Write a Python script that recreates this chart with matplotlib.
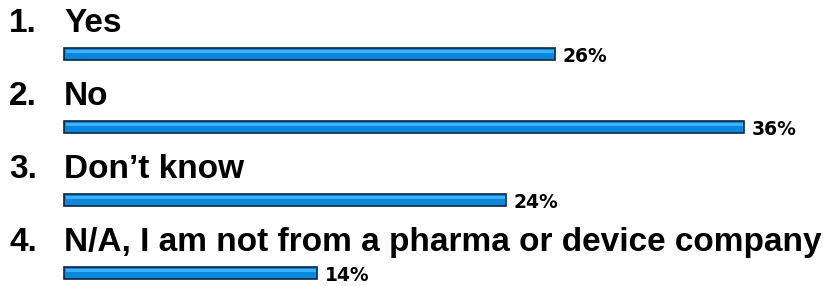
import matplotlib.pyplot as plt

numbers = ['1.', '2.', '3.', '4.']
answers = ['Yes', 'No', 'Don\u2019t know', 'N/A, I am not from a pharma or device company']
percent_labels = ['26%', '36%', '24%', '14%']
bar_values = [26, 36, 23.4, 13.4]

fig = plt.figure(figsize=(8.25, 2.86), dpi=100)
ax = fig.add_axes([0, 0, 1, 1])
ax.set_xlim(-64 / 18.9, (825 - 64) / 18.9)
ax.set_ylim((286 - 54) / 73, -54 / 73)
ax.axis('off')

for i, (num, ans, lab, v) in enumerate(zip(numbers, answers, percent_labels, bar_values)):
    ax.barh(i, v, height=0.16, left=0, color='#0a86dc', edgecolor='#0b2640', linewidth=1.2)
    # light highlight along the top of the bar
    ax.barh(i - 0.035, v - 0.15, height=0.03, left=0.08, color='#3fb0ff', linewidth=0)
    ax.text(-64 / 18.9 + 9 / 18.9, i - 0.42, num, fontsize=24, fontweight='bold',
            family='Liberation Sans', va='center', ha='left')
    ax.text(0, i - 0.42, ans, fontsize=24, fontweight='bold',
            family='Liberation Sans', va='center', ha='left')
    ax.text(v + 0.4, i + 0.04, lab, fontsize=13.5, fontweight='bold',
            family='DejaVu Sans', va='center', ha='left')

fig.savefig('out.png', dpi=100)
